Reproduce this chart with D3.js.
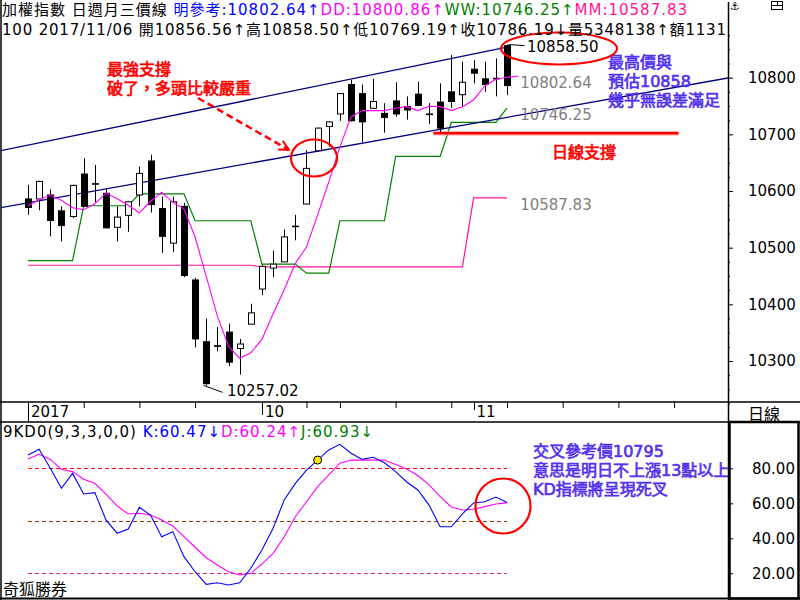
<!DOCTYPE html>
<html>
<head>
<meta charset="utf-8">
<script src="https://cdnjs.cloudflare.com/ajax/libs/d3/7.8.5/d3.min.js"></script>
<style>
  body { margin: 0; background: #fff; }
  svg { display: block; }
  text { font-family: "DejaVu Sans", "Noto Sans CJK TC", sans-serif; }
</style>
</head>
<body>
<div id="chart"></div>
<script>
// trading days shown (2017)
const dates = ["09/04","09/05","09/06","09/07","09/08","09/11","09/12","09/13","09/14","09/15",
  "09/18","09/19","09/20","09/21","09/22","09/25","09/26","09/27","09/28","09/29","09/30",
  "10/02","10/03","10/05","10/06","10/11","10/12","10/13","10/16","10/17","10/18","10/19","10/20",
  "10/23","10/24","10/25","10/26","10/27","10/30","10/31","11/01","11/02","11/03","11/06"];

const openPrices = [10586,10586,10593,10565,10555,10630,10612,10596,10536,10557,
  10593,10653,10569,10508,10573,10443,10334,10327,10351,10322,10365,
  10427,10464,10475,10537,10577,10671,10714,10736,10788,10772,10746,10737,
  10759,10749,10771,10736,10757,10775,10770,10815,10798,10798,10856.56];
const highPrices = [10611,10618,10603,10573,10611,10658,10646,10603,10573,10582,
  10643,10664,10590,10590,10579,10447,10375,10360,10366,10339,10401,
  10470,10495,10532,10558,10672,10712,10723,10773,10796,10788,10798,10755,
  10792,10767,10793,10755,10790,10840,10828,10831,10828,10834,10858.50];
const lowPrices = [10558,10566,10520,10511,10552,10572,10580,10534,10511,10528,
  10573,10562,10491,10492,10448,10324,10257.02,10317,10291,10276,10365,
  10416,10448,10475,10513,10577,10670,10678,10724,10723,10686,10746,10703,
  10731,10726,10750,10718,10704,10747,10749,10790,10775,10767,10769.19];
const closePrices = [10571,10617,10548,10539,10610,10573,10613,10535,10554,10581,
  10631,10576,10520,10581,10451,10339,10260,10326,10298,10330,10385,
  10467,10471,10519,10538,10640,10711,10722,10772,10724,10722,10758,10730,
  10736,10743,10751,10735,10711,10758,10792,10808,10788,10799,10786.19];

// 日週月三價線 (day line has one extra point: tomorrow's reference)
const dayLine = [10574,10584.5,10592.4,10583.6,10570.4,10566.9,10577.5,10596.3,10586.3,10574.8,
  10561.6,10581.5,10597.7,10580.1,10568.7,10518.8,10449.4,10379.2,10326.1,10304.8,10314.5,
  10338.2,10383.4,10425.7,10472.6,10501.3,10558,10616,10677.9,10730.8,10742.2,10741.9,10741.9,
  10746.1,10748.9,10741.9,10749.6,10748.9,10741.9,10748.9,10760.7,10785.4,10797.4,10800.86,10802.64];
const weekLine = [10477,10477,10477,10477,10477,10574,10574,10574,10574,10574,
  10595,10595,10595,10595,10595,10547.5,10547.5,10547.5,10547.5,10547.5,10547.5,
  10471,10471,10471,10471,10455,10455,10455,10547.5,10547.5,10547.5,10547.5,10547.5,
  10661,10661,10661,10661,10661,10721,10721,10721,10721,10721,10746.25];
const monthLine = [10469,10469,10469,10469,10469,10469,10469,10469,10469,10469,
  10469,10469,10469,10469,10469,10469,10469,10469,10469,10469,10469,
  10466,10466,10466,10466,10466,10466,10466,10466,10466,10466,10466,10466,
  10466,10466,10466,10466,10466,10466,10466,10587.83,10587.83,10587.83,10587.83];

// 9KD
const kValues = [87.6,90.9,80.0,68.6,77.1,65.3,66.1,50.5,42.9,45.3,
  57.7,53.3,40.9,43.8,29.5,20.9,13.7,14.6,13.3,14.6,22.9,
  33.3,45.7,61.9,71.4,79.0,84.7,90.5,93.7,88.6,85.1,86.3,83.2,
  78.1,72.2,67.6,59.0,46.6,46.6,53.9,60.2,60.9,63.6,60.47];
const dValues = [85.3,88.0,85.1,79.4,78.1,73.7,71.4,65.3,58.5,53.9,
  54.3,53.3,50.5,47.0,40.9,34.9,28.9,24.7,20.9,19.0,20.0,
  25.3,31.4,40.9,52.3,60.9,69.5,76.2,82.9,84.7,84.7,84.7,84.7,
  82.2,79.6,75.9,70.5,63.8,57.9,56.2,56.6,58.1,59.6,60.24];

const priceTicks = [10300, 10400, 10500, 10600, 10700, 10800];
const kdTicks = [20, 40, 60, 80];
const kdLevels = [80, 50, 20];
const kdLevelColors = ["#ff0000", "#993300", "#e0208a"];
const weekTickIdx = [0, 5, 10, 15, 21, 25, 28, 33, 38, 43, 48, 53, 58];
const monthTicks = [{ idx: 0, label: "2017", len: 20 }, { idx: 21, label: "10", len: 13 }, { idx: 40, label: "11", len: 8 }];

// trend lines drawn on the chart, as [day index, price]
const upperTrend = [[-2.51, 10670.8], [43, 10854]];
const lowerTrend = [[-2.51, 10570.4], [62.84, 10799.5]];
const supportLine = [[36.4, 10702], [58.4, 10702]];
const highMark = 10858.50, lowMark = 10257.02;

const headerRow1 = [
  { text: "加權指數 日週月三價線 ", color: "#000" },
  { text: "明參考:10802.64↑", color: "#0000ff" },
  { text: "DD:10800.86↑", color: "#ff00ff" },
  { text: "WW:10746.25↑", color: "#008000" },
  { text: "MM:10587.83", color: "#ff1493" }
];
const headerRow2 = [{ text: "100 2017/11/06 開10856.56↑高10858.50↑低10769.19↑收10786.19↓量5348138↑額1131", color: "#000" }];
const kdHeader = [
  { text: "9KD0(9,3,3,0,0) ", color: "#000" },
  { text: "K:60.47↓", color: "#0000ff" },
  { text: "D:60.24↑", color: "#ff00ff" },
  { text: "J:60.93↓", color: "#008000" }
];

const W = 800, H = 600, plotRight = 728;
const svg = d3.select("#chart").append("svg").attr("width", W).attr("height", H);
const defs = svg.append("defs");
defs.append("clipPath").attr("id", "clipMain").append("rect")
  .attr("x", 1).attr("y", 0).attr("width", plotRight - 1).attr("height", 401);
defs.append("clipPath").attr("id", "clipKD").append("rect")
  .attr("x", 1).attr("y", 423).attr("width", plotRight - 1).attr("height", 175);
defs.append("clipPath").attr("id", "clipHead").append("rect")
  .attr("x", 0).attr("y", 0).attr("width", plotRight - 1).attr("height", 40);
defs.append("marker").attr("id", "arrow").attr("viewBox", "0 0 12 12")
  .attr("refX", 11).attr("refY", 6).attr("markerWidth", 12).attr("markerHeight", 12)
  .attr("markerUnits", "userSpaceOnUse").attr("orient", "auto")
  .append("path").attr("d", "M1,1 L11,6 L1,11").attr("fill", "none")
  .attr("stroke", "#ff0000").attr("stroke-width", 2);

// scales
const x = d3.scaleLinear().domain([0, dates.length - 1]).range([28, 507]);
const y = d3.scaleLinear().domain([10300, 10800]).range([361, 77.7]);
const yKD = d3.scaleLinear().domain([20, 80]).range([573.3, 468.3]);

// ---------- main price panel ----------
const main = svg.append("g").attr("clip-path", "url(#clipMain)");

const priceLine = d3.line().x((d, i) => x(i)).y(d => y(d));
main.append("path").attr("d", priceLine(monthLine)).attr("fill", "none").attr("stroke", "#ff1493").attr("stroke-width", 1.2);
main.append("path").attr("d", priceLine(weekLine)).attr("fill", "none").attr("stroke", "#008000").attr("stroke-width", 1.2);

const trend = d3.line().x(d => x(d[0])).y(d => y(d[1]));
[upperTrend, lowerTrend].forEach(t => {
  main.append("path").attr("d", trend(t)).attr("fill", "none").attr("stroke", "#000080").attr("stroke-width", 1.3);
});

// support line (red, with soft halo)
main.append("path").attr("d", trend(supportLine)).attr("stroke", "#ff9999").attr("stroke-width", 5).attr("stroke-opacity", 0.6);
main.append("path").attr("d", trend(supportLine)).attr("stroke", "#ff0000").attr("stroke-width", 2.5);

const candles = dates.map((d, i) => ({ i, o: openPrices[i], h: highPrices[i], l: lowPrices[i], c: closePrices[i] }));
const cx = i => Math.round(x(i)) + 0.5;

main.selectAll(".wick").data(candles).join("line")
  .attr("class", "wick")
  .attr("x1", d => cx(d.i)).attr("x2", d => cx(d.i))
  .attr("y1", d => y(d.h)).attr("y2", d => y(d.l))
  .attr("stroke", "#000");

main.selectAll(".body").data(candles).join("rect")
  .attr("class", "body")
  .attr("x", d => cx(d.i) - 3).attr("width", 6)
  .attr("y", d => y(Math.max(d.o, d.c)))
  .attr("height", d => Math.max(0.6, Math.abs(y(d.o) - y(d.c))))
  .attr("fill", d => d.c < d.o ? "#000" : "#fff")
  .attr("stroke", "#000");

main.append("path").attr("d", priceLine(dayLine)).attr("fill", "none").attr("stroke", "#ff00ff").attr("stroke-width", 1.1);

// value labels at the end of the three lines
const lastI = dates.length - 1;
const gray = [[dayLine[dayLine.length - 1], "10802.64"], [weekLine[lastI], "10746.25"], [monthLine[lastI], "10587.83"]];
main.selectAll(".endlab").data(gray).join("text")
  .attr("x", x(lastI + 1) + 2).attr("y", d => y(d[0]) + 12)
  .attr("font-size", 15).attr("fill", "#808080").text(d => d[1]);

// high / low markers
main.append("path")
  .attr("d", `M${cx(lastI) + 1},${y(highMark)} L${cx(lastI) + 17},${y(highMark) + 1}`)
  .attr("stroke", "#000").attr("fill", "none");
main.append("text").attr("x", 527).attr("y", y(highMark) + 7).attr("font-size", 15).text("10858.50");
const lowI = lowPrices.indexOf(lowMark);
main.append("path")
  .attr("d", `M${cx(lowI) - 3},${y(lowMark)} L${cx(lowI) + 16},${y(lowMark) + 7}`)
  .attr("stroke", "#000").attr("fill", "none");
main.append("text").attr("x", 227).attr("y", y(lowMark) + 11).attr("font-size", 15).text("10257.02");

// annotations
const red = "#ff0000", purple = "#5533ee";
function note(g, xPos, yPos, str, color) {
  g.append("text").attr("x", xPos).attr("y", yPos)
    .attr("font-family", "Noto Sans CJK TC").attr("font-size", 16)
    .attr("fill", color).attr("stroke", color).attr("stroke-width", 0.7)
    .text(str);
}
note(svg, 107, 75, "最強支撐", red);
note(svg, 107, 94, "破了，多頭比較嚴重", red);
note(svg, 608, 68, "最高價與", purple);
note(svg, 608, 87, "預估10858", purple);
note(svg, 608, 106, "幾乎無誤差滿足", purple);
note(svg, 552, 158, "日線支撐", red);
note(svg, 533, 457, "交叉參考價10795", purple);
note(svg, 533, 476, "意思是明日不上漲13點以上", purple);
note(svg, 533, 495, "KD指標將呈現死叉", purple);

svg.append("line").attr("x1", 198).attr("y1", 98).attr("x2", 289).attr("y2", 150)
  .attr("stroke", red).attr("stroke-width", 2.5).attr("stroke-dasharray", "7,4")
  .attr("marker-end", "url(#arrow)");
svg.append("ellipse").attr("cx", 314).attr("cy", 158).attr("rx", 23).attr("ry", 18.5)
  .attr("fill", "none").attr("stroke", red).attr("stroke-width", 2.2);
svg.append("ellipse").attr("cx", 559).attr("cy", 48.5).attr("rx", 58).attr("ry", 16)
  .attr("fill", "none").attr("stroke", red).attr("stroke-width", 2.2);

// ---------- headers ----------
function runText(g, xPos, yPos, runs, size, fit) {
  const t = g.append("text").attr("x", xPos).attr("y", yPos).attr("font-size", size);
  runs.forEach(r => t.append("tspan").attr("fill", r.color).text(r.text));
  if (fit) t.attr("textLength", fit).attr("lengthAdjust", "spacing");
  return t;
}
const head = svg.append("g").attr("clip-path", "url(#clipHead)");
runText(head, 2, 15, headerRow1, 15, 685);
runText(head, 2, 35, headerRow2, 15, 724);
runText(svg, 3, 437, kdHeader, 15, 370);
svg.append("text").attr("x", 3).attr("y", 595).attr("font-size", 16)
  .attr("font-family", "Noto Sans CJK TC").text("奇狐勝券");
svg.append("text").attr("x", 748).attr("y", 420).attr("font-size", 16)
  .attr("font-family", "Noto Sans CJK TC").text("日線");

// ---------- axes ----------
const gP = svg.append("g").attr("transform", `translate(${plotRight},0)`)
  .call(d3.axisRight(y).tickValues(priceTicks).tickSize(5).tickPadding(15).tickFormat(d3.format("d")));
const minorP = d3.range(10225, 10876, 25).filter(v => v % 100 !== 0);
const gPm = svg.append("g").attr("transform", `translate(${plotRight},0)`)
  .call(d3.axisRight(y).tickValues(minorP).tickSize(2).tickFormat(""));
const gK = svg.append("g").attr("transform", `translate(${plotRight},0)`)
  .call(d3.axisRight(yKD).tickValues(kdTicks).tickSize(5).tickPadding(19).tickFormat(d3.format(".2f")));
[gP, gPm, gK].forEach(g => {
  g.select(".domain").remove();
  g.attr("font-size", 15).attr("font-family", "DejaVu Sans");
  g.selectAll("text").attr("fill", "#000");
  g.selectAll("line").attr("stroke", "#000");
});

const gX = svg.append("g").attr("transform", "translate(0,402)")
  .call(d3.axisBottom(x).tickValues(weekTickIdx).tickSize(6).tickFormat(""));
gX.select(".domain").remove();
gX.selectAll("line").attr("stroke", "#000");
svg.selectAll(".mtick").data(monthTicks).join("line")
  .attr("x1", d => cx(d.idx)).attr("x2", d => cx(d.idx))
  .attr("y1", 402).attr("y2", d => 402 + d.len).attr("stroke", "#000");
svg.selectAll(".mlab").data(monthTicks).join("text")
  .attr("x", d => x(d.idx) + 3).attr("y", 417).attr("font-size", 15).text(d => d.label);

// ---------- KD panel ----------
const kd = svg.append("g").attr("clip-path", "url(#clipKD)");
kd.selectAll(".lvl").data(kdLevels).join("line")
  .attr("x1", x(0)).attr("x2", x(lastI))
  .attr("y1", d => Math.round(yKD(d)) + 0.5).attr("y2", d => Math.round(yKD(d)) + 0.5)
  .attr("stroke", (d, i) => kdLevelColors[i]).attr("stroke-dasharray", "4,3");
const kdLine = d3.line().x((d, i) => x(i)).y(d => yKD(d));
kd.append("path").attr("d", kdLine(dValues)).attr("fill", "none").attr("stroke", "#ff00ff").attr("stroke-width", 1.1);
kd.append("path").attr("d", kdLine(kValues)).attr("fill", "none").attr("stroke", "#0000ff").attr("stroke-width", 1.1);
kd.append("circle").attr("cx", x(26)).attr("cy", yKD(kValues[26])).attr("r", 4)
  .attr("fill", "#ffe600").attr("stroke", "#000");
svg.append("circle").attr("cx", 503).attr("cy", 506).attr("r", 27.5)
  .attr("fill", "none").attr("stroke", red).attr("stroke-width", 2.2);

// ---------- frame ----------
const frame = svg.append("g").attr("stroke", "#000").attr("fill", "none");
frame.append("line").attr("x1", 1).attr("x2", 1).attr("y1", 0).attr("y2", 600).attr("stroke-width", 1.5);
frame.append("line").attr("x1", plotRight + 0.5).attr("x2", plotRight + 0.5).attr("y1", 2).attr("y2", 600).attr("stroke-width", 1.5);
frame.append("line").attr("x1", 0).attr("x2", 800).attr("y1", 402).attr("y2", 402).attr("stroke-width", 1.5);
frame.append("line").attr("x1", 0).attr("x2", 800).attr("y1", 422).attr("y2", 422).attr("stroke-width", 1.5);
frame.append("line").attr("x1", 0).attr("x2", 800).attr("y1", 598.5).attr("y2", 598.5).attr("stroke-width", 2);
frame.append("rect").attr("x", 729.5).attr("y", 422).attr("width", 69).attr("height", 176.5).attr("stroke-width", 2.5);

// top-right icons
svg.append("text").attr("x", 730).attr("y", 10).attr("font-size", 11).text("⚓");
const icon = svg.append("g").attr("stroke", "#000").attr("fill", "none");
icon.append("rect").attr("x", 771.5).attr("y", 1.5).attr("width", 11).attr("height", 8);
icon.append("line").attr("x1", 771.5).attr("x2", 782.5).attr("y1", 5.5).attr("y2", 5.5);
icon.append("line").attr("x1", 777.5).attr("x2", 777.5).attr("y1", 1.5).attr("y2", 5.5);
</script>
</body>
</html>
